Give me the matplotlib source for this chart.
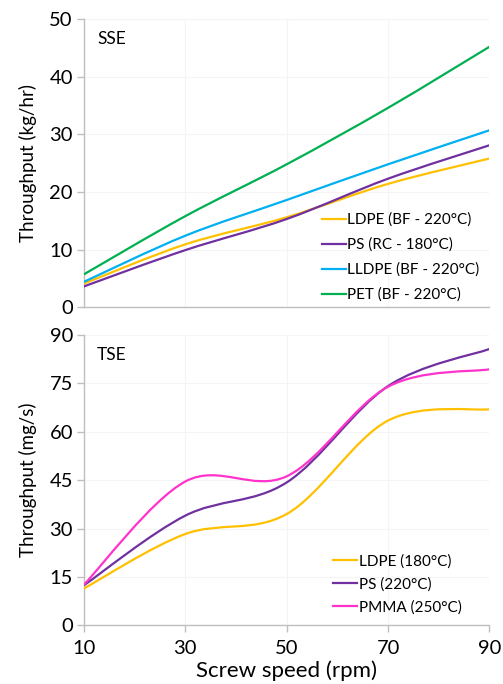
import matplotlib
matplotlib.use('Agg')
import matplotlib.pyplot as plt
from matplotlib.path import Path
from matplotlib.patches import PathPatch
from matplotlib.lines import Line2D
import numpy as np

plt.rcParams['font.family'] = ['Lato', 'DejaVu Sans']

speed = [10, 30, 50, 70, 90]

# single screw extruder (kg/hr)
sse_labels = ['LDPE (BF - 220°C)', 'PS (RC - 180°C)', 'LLDPE (BF - 220°C)', 'PET (BF - 220°C)']
sse_ldpe = [4.1, 10.9, 15.6, 21.4, 25.8]
sse_ps = [3.6, 9.9, 15.3, 22.3, 28.1]
sse_lldpe = [4.4, 12.4, 18.6, 24.8, 30.7]
sse_pet = [5.7, 15.8, 24.8, 34.6, 45.2]

# twin screw extruder (mg/s)
tse_labels = ['LDPE (180°C)', 'PS (220°C)', 'PMMA (250°C)']
tse_ldpe = [11.4, 28.3, 34.5, 63.5, 67.0]
tse_ps = [12.4, 34.0, 44.3, 74.2, 85.7]
tse_pmma = [12.6, 44.6, 46.2, 74.0, 79.4]

c_orange = '#FFC000'
c_purple = '#7030A0'
c_blue = '#00B0F0'
c_green = '#00B050'
c_pink = '#FF33CC'
grey = '#BFBFBF'


def smooth_line(ax, x, y, color):
    # excel style smoothed line: cubic bezier between points
    p = np.column_stack([x, y]).astype(float)
    n = len(p)
    verts = [p[0]]
    codes = [Path.MOVETO]
    for i in range(n - 1):
        prev = p[i - 1] if i > 0 else p[i]
        nxt = p[i + 2] if i + 2 < n else p[i + 1]
        verts += [p[i] + (p[i + 1] - prev) / 6, p[i + 1] - (nxt - p[i]) / 6, p[i + 1]]
        codes += [Path.CURVE4] * 3
    ax.add_patch(PathPatch(Path(verts, codes), fill=False, edgecolor=color,
                           lw=1.6, capstyle='round', zorder=3))
    return Line2D([], [], color=color, lw=1.6)


def style_axes(ax, ymax, ystep, ylabel, tag):
    ax.set_xlim(10, 90)
    ax.set_ylim(0, ymax)
    ax.set_xticks(speed)
    ax.set_yticks(np.arange(0, ymax + 1, ystep))
    ax.grid(True, color='#F4F4F4', lw=0.8)
    ax.set_axisbelow(True)
    for s in ['top', 'right']:
        ax.spines[s].set_visible(False)
    for s in ['left', 'bottom']:
        ax.spines[s].set_color(grey)
        ax.spines[s].set_linewidth(1.0)
    ax.tick_params(axis='both', colors=grey, labelcolor='black', labelsize=14.5,
                   length=5, width=1.0, pad=3)
    ax.set_ylabel(ylabel, fontsize=13.5, labelpad=9)
    ax.text(0.032, 0.93, tag, transform=ax.transAxes, fontsize=12.5, va='center')


fig = plt.figure(figsize=(5.03, 6.84), dpi=100)
ax1 = fig.add_axes([0.167, 0.551, 0.806, 0.421])
ax2 = fig.add_axes([0.167, 0.086, 0.806, 0.424])

h1 = [smooth_line(ax1, speed, sse_ldpe, c_orange),
      smooth_line(ax1, speed, sse_ps, c_purple),
      smooth_line(ax1, speed, sse_lldpe, c_blue),
      smooth_line(ax1, speed, sse_pet, c_green)]
style_axes(ax1, 50, 10, 'Throughput (kg/hr)', 'SSE')
ax1.tick_params(axis='x', length=0, labelbottom=False)
ax1.legend(h1, sse_labels, loc='lower right', bbox_to_anchor=(1.01, -0.03), frameon=False,
           fontsize=11, handlelength=1.6, handletextpad=0.1, labelspacing=0.7)

h2 = [smooth_line(ax2, speed, tse_ldpe, c_orange),
      smooth_line(ax2, speed, tse_ps, c_purple),
      smooth_line(ax2, speed, tse_pmma, c_pink)]
style_axes(ax2, 90, 15, 'Throughput (mg/s)', 'TSE')
ax2.tick_params(axis='x', pad=6)
ax2.set_xlabel('Screw speed (rpm)', fontsize=16, labelpad=2)
ax2.legend(h2, tse_labels, loc='lower right', bbox_to_anchor=(0.965, -0.01), frameon=False,
           fontsize=11, handlelength=1.6, handletextpad=0.1, labelspacing=0.55)

fig.savefig('out.png', dpi=100)
